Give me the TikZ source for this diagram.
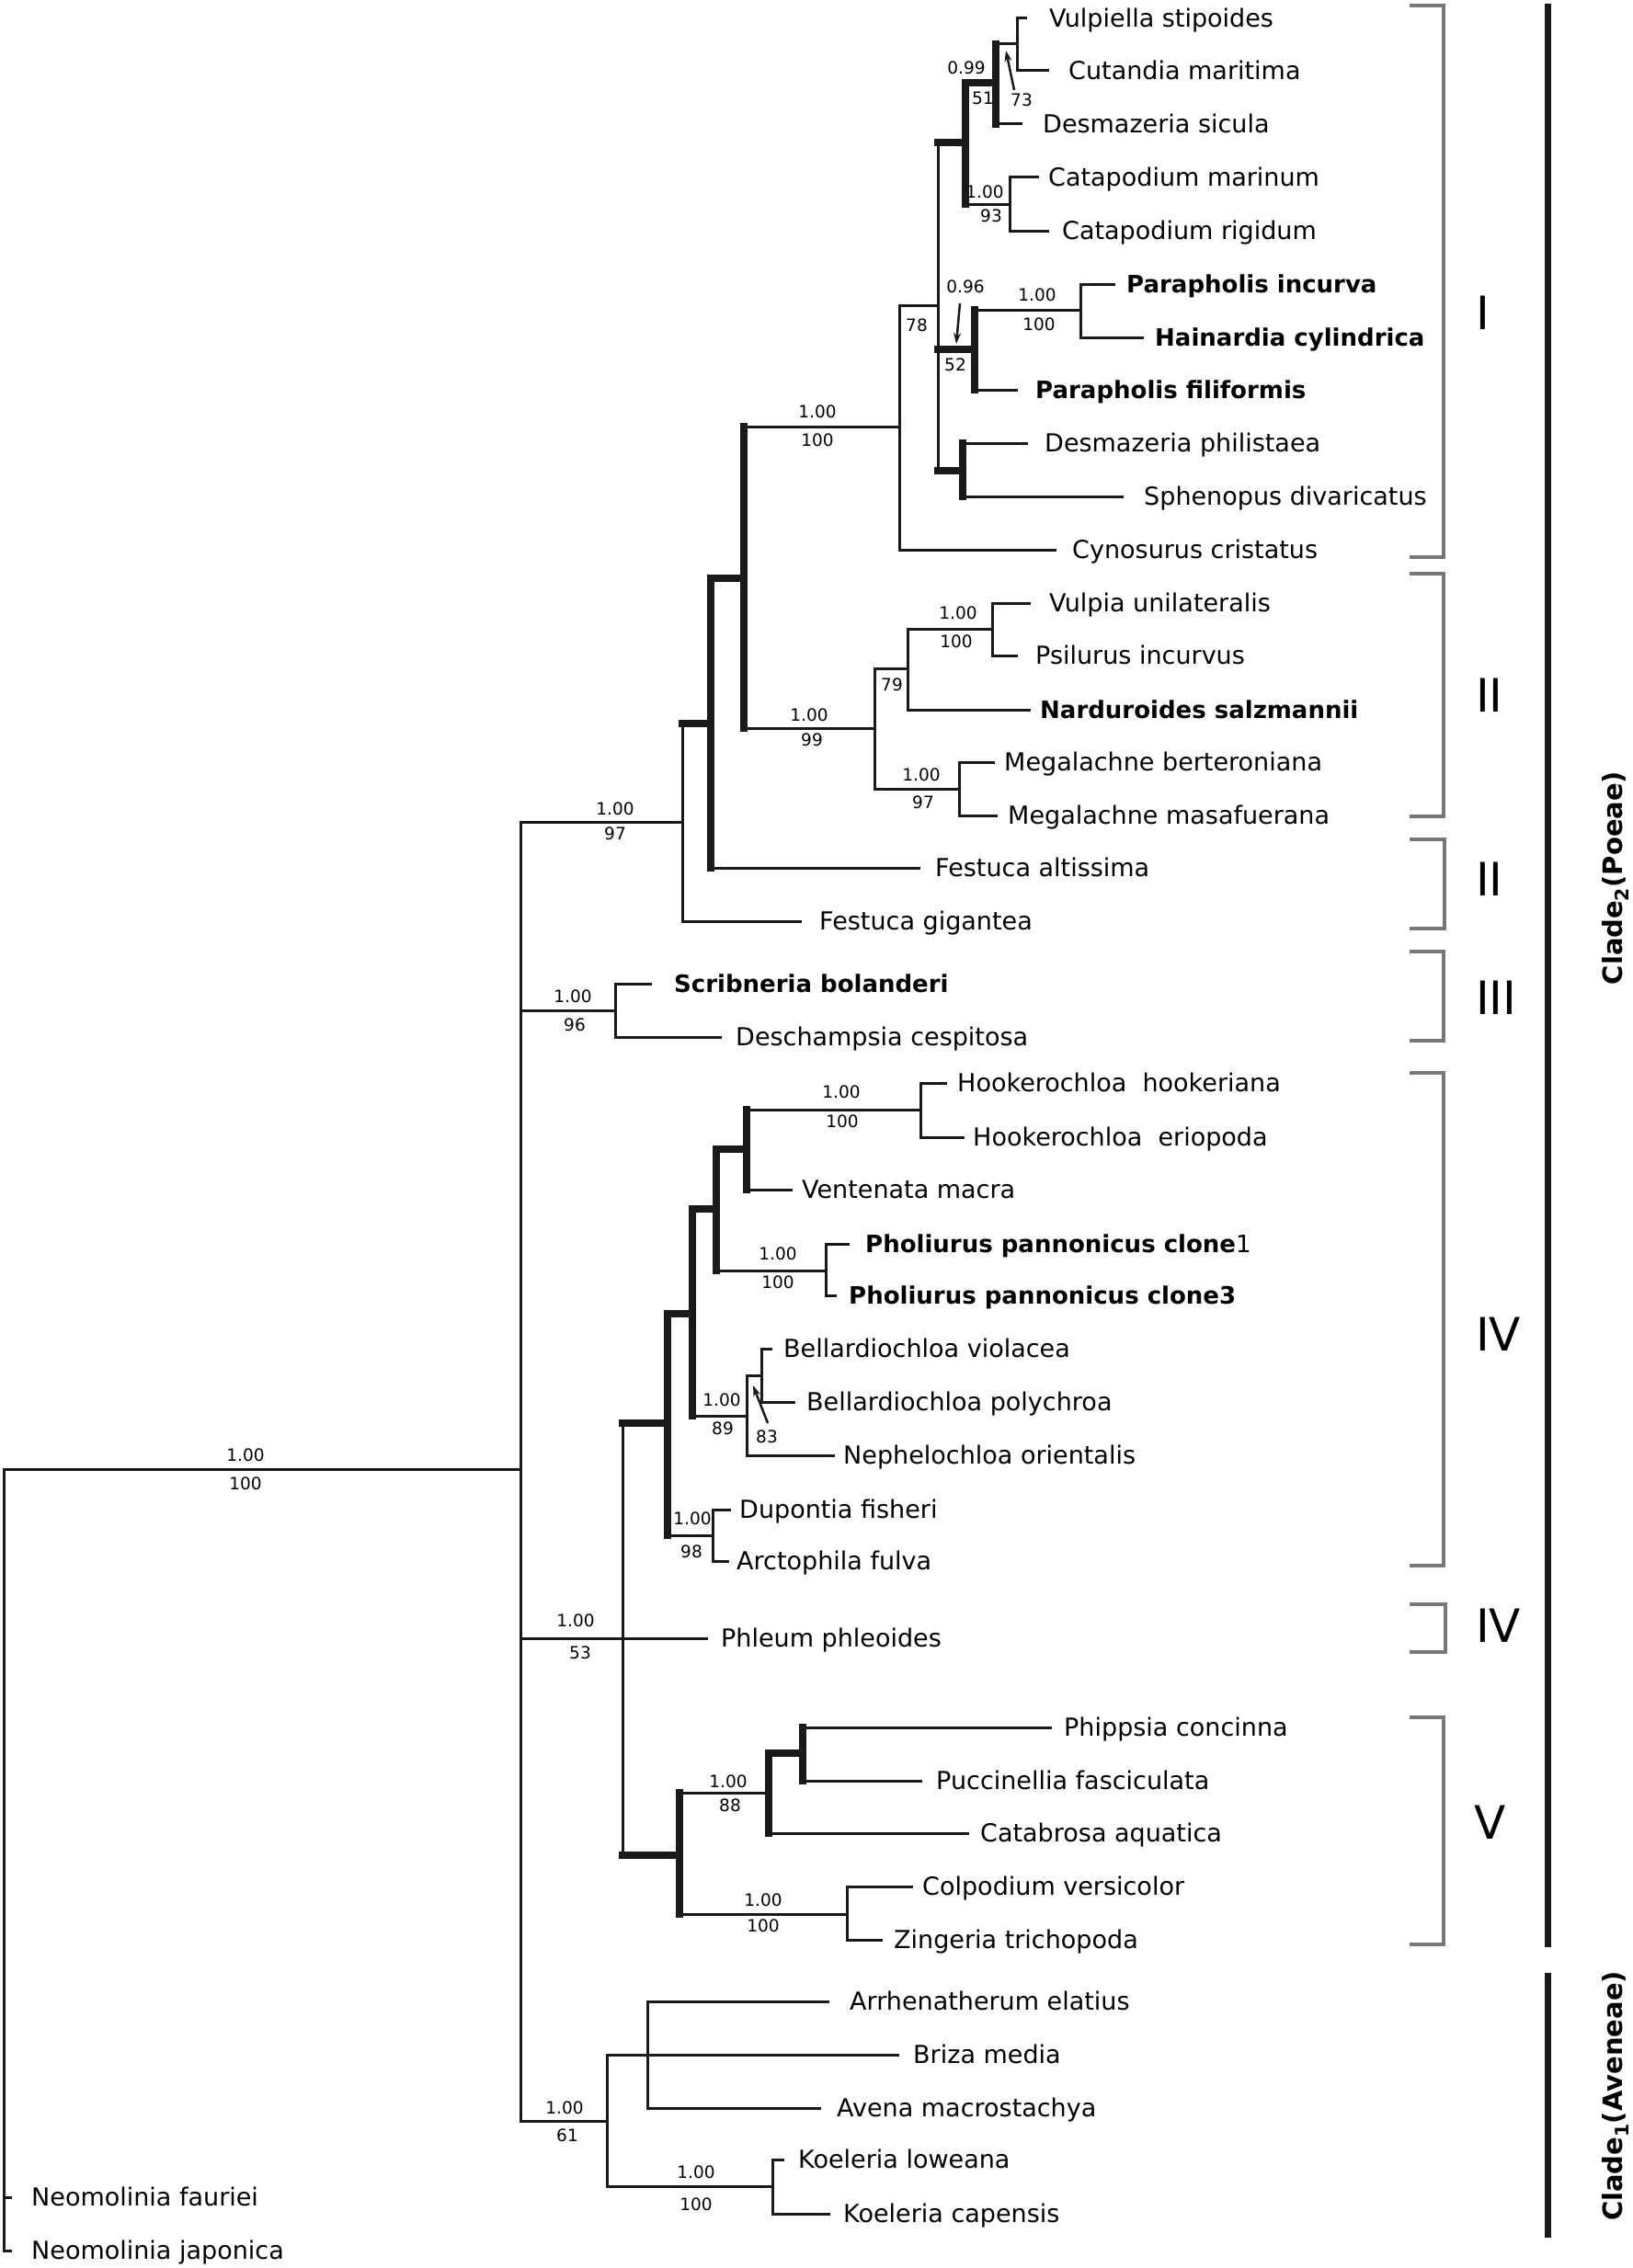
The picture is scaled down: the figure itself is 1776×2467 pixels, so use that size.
\documentclass[tikz,border=0pt]{standalone}
\usepackage{fontspec}
\setmainfont{DejaVu Sans}
\usetikzlibrary{arrows.meta}
\definecolor{lc}{HTML}{1A1A1A}
\definecolor{bc}{HTML}{777777}
\tikzset{
  ln/.style={line width=3pt, draw=lc, line cap=rect},
  tk/.style={line width=7.5pt, draw=lc, line cap=rect},
  tx/.style={anchor=west, inner sep=0pt, font=\fontsize{27}{27}\selectfont, text height=19.7pt, text depth=0pt},
  bx/.style={anchor=west, inner sep=0pt, font=\fontsize{26}{26}\selectfont\bfseries, text height=19pt, text depth=0pt},
  nm/.style={inner sep=0pt, font=\fontsize{18.5}{18.5}\selectfont, text height=13.5pt, text depth=0pt},
  arr/.style={line width=2.5pt, draw=lc, -{Stealth[length=12pt,width=8pt]}},
  brk/.style={line width=4pt, draw=bc, line join=miter},
  bar/.style={line width=7pt, draw=lc},
  rn/.style={anchor=west, inner sep=0pt, font=\fontsize{50}{50}\selectfont, text height=36.5pt, text depth=0pt},
  cl/.style={inner sep=0pt, rotate=90, font=\fontsize{29}{29}\selectfont\bfseries}
}
\begin{document}
\begin{tikzpicture}[x=1pt,y=-1pt]
\useasboundingbox (0,0) rectangle (1776,2467);
% ---------------- internal nodes ----------------
\coordinate (R) at (4,1598);
\coordinate (NA) at (566,1598);
\coordinate (NF) at (742,894);
\coordinate (NF2) at (773,787);
\coordinate (NF3) at (809,629);
\coordinate (NI) at (978,464);
\coordinate (NII) at (951,792);
\coordinate (N1020) at (1020,332);
\coordinate (Nup) at (1050,155);
\coordinate (Npar) at (1060,380);
\coordinate (Nphil) at (1047,512);
\coordinate (Nvul) at (1083,90);
\coordinate (Ncat) at (1098,222);
\coordinate (Nvc) at (1106,48);
\coordinate (Npi) at (1175,337);
\coordinate (N987) at (987,727);
\coordinate (Nmeg) at (1043,858);
\coordinate (Nvp) at (1079,684);
\coordinate (NS) at (669,1099);
\coordinate (NP) at (677,1782);
\coordinate (NIV) at (726,1548);
\coordinate (NV) at (739,2018);
\coordinate (N753) at (753,1429);
\coordinate (Ndup) at (775,1670);
\coordinate (N779) at (779,1315);
\coordinate (Nbel) at (812,1540);
\coordinate (N812) at (812,1250);
\coordinate (Npho) at (898,1382);
\coordinate (Nhook) at (1001,1207);
\coordinate (Nbv) at (828,1496);
\coordinate (N836) at (836,1950);
\coordinate (Ncol) at (921,2082);
\coordinate (Nphip) at (873,1907);
\coordinate (NAv) at (660,2307);
\coordinate (Nav) at (704,2235);
\coordinate (Nkoe) at (840,2378);
% ---------------- tips ----------------
\coordinate (tVs) at (1115,20);
\coordinate (tCm) at (1139,77);
\coordinate (tDs) at (1110,135);
\coordinate (tCmar) at (1128,193);
\coordinate (tCr) at (1139,251);
\coordinate (tPi) at (1211,309);
\coordinate (tHc) at (1242,367);
\coordinate (tPf) at (1105,424);
\coordinate (tDp) at (1116,482);
\coordinate (tSd) at (1220,540);
\coordinate (tCy) at (1147,598);
\coordinate (tVu) at (1119,656);
\coordinate (tPs) at (1105,713);
\coordinate (tNs) at (1119,772);
\coordinate (tMb) at (1080,829);
\coordinate (tMm) at (1083,887);
\coordinate (tFa) at (999,944);
\coordinate (tFg) at (870,1002);
\coordinate (tSb) at (707,1070);
\coordinate (tDc) at (783,1128);
\coordinate (tHh) at (1028,1178);
\coordinate (tHe) at (1047,1237);
\coordinate (tVm) at (860,1294);
\coordinate (tP1) at (922,1353);
\coordinate (tP3) at (908,1409);
\coordinate (tBv) at (838,1467);
\coordinate (tBp) at (863,1525);
\coordinate (tNo) at (906,1583);
\coordinate (tDf) at (793,1642);
\coordinate (tAf) at (791,1698);
\coordinate (tPh) at (768,1782);
\coordinate (tPc) at (1142,1879);
\coordinate (tPuf) at (1001,1937);
\coordinate (tCa) at (1052,1994);
\coordinate (tCv) at (991,2052);
\coordinate (tZt) at (958,2110);
\coordinate (tAe) at (900,2177);
\coordinate (tBm) at (976,2235);
\coordinate (tAm) at (891,2293);
\coordinate (tKl) at (851,2349);
\coordinate (tKc) at (901,2408);
\coordinate (tNf) at (11,2390);
\coordinate (tNj) at (11,2448);
% ---------------- verticals ----------------
\draw[ln] (R) -- (R |- tNj);
\draw[ln] (NA |- NF) -- (NA |- NAv);
\draw[ln] (NF |- NF2) -- (NF |- tFg);
\draw[tk] (NF2 |- NF3) -- (NF2 |- tFa);
\draw[tk] (NF3 |- NI) -- (NF3 |- NII);
\draw[ln] (NI |- N1020) -- (NI |- tCy);
\draw[ln] (N1020 |- Nup) -- (N1020 |- Nphil);
\draw[tk] (Nup |- Nvul) -- (Nup |- Ncat);
\draw[tk] (Nvul |- Nvc) -- (Nvul |- tDs);
\draw[ln] (Nvc |- tVs) -- (Nvc |- tCm);
\draw[ln] (Ncat |- tCmar) -- (Ncat |- tCr);
\draw[tk] (Npar |- Npi) -- (Npar |- tPf);
\draw[ln] (Npi |- tPi) -- (Npi |- tHc);
\draw[tk] (Nphil |- tDp) -- (Nphil |- tSd);
\draw[ln] (NII |- N987) -- (NII |- Nmeg);
\draw[ln] (N987 |- Nvp) -- (N987 |- tNs);
\draw[ln] (Nvp |- tVu) -- (Nvp |- tPs);
\draw[ln] (Nmeg |- tMb) -- (Nmeg |- tMm);
\draw[ln] (NS |- tSb) -- (NS |- tDc);
\draw[ln] (NP |- NIV) -- (NP |- NV);
\draw[tk] (NIV |- N753) -- (NIV |- Ndup);
\draw[tk] (N753 |- N779) -- (N753 |- Nbel);
\draw[tk] (N779 |- N812) -- (N779 |- Npho);
\draw[tk] (N812 |- Nhook) -- (N812 |- tVm);
\draw[ln] (Nhook |- tHh) -- (Nhook |- tHe);
\draw[ln] (Npho |- tP1) -- (Npho |- tP3);
\draw[ln] (Nbel |- Nbv) -- (Nbel |- tNo);
\draw[ln] (Nbv |- tBv) -- (Nbv |- tBp);
\draw[ln] (Ndup |- tDf) -- (Ndup |- tAf);
\draw[tk] (NV |- N836) -- (NV |- Ncol);
\draw[tk] (N836 |- Nphip) -- (N836 |- tCa);
\draw[tk] (Nphip |- tPc) -- (Nphip |- tPuf);
\draw[ln] (Ncol |- tCv) -- (Ncol |- tZt);
\draw[ln] (NAv |- Nav) -- (NAv |- Nkoe);
\draw[ln] (Nav |- tAe) -- (Nav |- tAm);
\draw[ln] (Nkoe |- tKl) -- (Nkoe |- tKc);
% ---------------- horizontals ----------------
\draw[ln] (R) -- (NA);
\draw[ln] (R |- tNf) -- (tNf);
\draw[ln] (R |- tNj) -- (tNj);
\draw[ln] (NA |- NF) -- (NF);
\draw[ln] (NA |- NS) -- (NS);
\draw[ln] (NA |- NP) -- (NP);
\draw[ln] (NA |- NAv) -- (NAv);
\draw[tk] (NF |- NF2) -- (NF2);
\draw[ln] (NF |- tFg) -- (tFg);
\draw[tk] (NF2 |- NF3) -- (NF3);
\draw[ln] (NF2 |- tFa) -- (tFa);
\draw[ln] (NF3 |- NI) -- (NI);
\draw[ln] (NF3 |- NII) -- (NII);
\draw[ln] (NI |- N1020) -- (N1020);
\draw[ln] (NI |- tCy) -- (tCy);
\draw[tk] (N1020 |- Nup) -- (Nup);
\draw[tk] (N1020 |- Npar) -- (Npar);
\draw[tk] (N1020 |- Nphil) -- (Nphil);
\draw[tk] (Nup |- Nvul) -- (Nvul);
\draw[ln] (Nup |- Ncat) -- (Ncat);
\draw[ln] (Nvul |- Nvc) -- (Nvc);
\draw[ln] (Nvul |- tDs) -- (tDs);
\draw[ln] (Nvc |- tVs) -- (tVs);
\draw[ln] (Nvc |- tCm) -- (tCm);
\draw[ln] (Ncat |- tCmar) -- (tCmar);
\draw[ln] (Ncat |- tCr) -- (tCr);
\draw[ln] (Npar |- Npi) -- (Npi);
\draw[ln] (Npar |- tPf) -- (tPf);
\draw[ln] (Npi |- tPi) -- (tPi);
\draw[ln] (Npi |- tHc) -- (tHc);
\draw[ln] (Nphil |- tDp) -- (tDp);
\draw[ln] (Nphil |- tSd) -- (tSd);
\draw[ln] (NII |- N987) -- (N987);
\draw[ln] (NII |- Nmeg) -- (Nmeg);
\draw[ln] (N987 |- Nvp) -- (Nvp);
\draw[ln] (N987 |- tNs) -- (tNs);
\draw[ln] (Nvp |- tVu) -- (tVu);
\draw[ln] (Nvp |- tPs) -- (tPs);
\draw[ln] (Nmeg |- tMb) -- (tMb);
\draw[ln] (Nmeg |- tMm) -- (tMm);
\draw[ln] (NS |- tSb) -- (tSb);
\draw[ln] (NS |- tDc) -- (tDc);
\draw[tk] (NP |- NIV) -- (NIV);
\draw[ln] (NP |- tPh) -- (tPh);
\draw[tk] (NP |- NV) -- (NV);
\draw[tk] (NIV |- N753) -- (N753);
\draw[ln] (NIV |- Ndup) -- (Ndup);
\draw[tk] (N753 |- N779) -- (N779);
\draw[ln] (N753 |- Nbel) -- (Nbel);
\draw[tk] (N779 |- N812) -- (N812);
\draw[ln] (N779 |- Npho) -- (Npho);
\draw[ln] (N812 |- Nhook) -- (Nhook);
\draw[ln] (N812 |- tVm) -- (tVm);
\draw[ln] (Nhook |- tHh) -- (tHh);
\draw[ln] (Nhook |- tHe) -- (tHe);
\draw[ln] (Npho |- tP1) -- (tP1);
\draw[ln] (Npho |- tP3) -- (tP3);
\draw[ln] (Nbel |- Nbv) -- (Nbv);
\draw[ln] (Nbel |- tNo) -- (tNo);
\draw[ln] (Nbv |- tBv) -- (tBv);
\draw[ln] (Nbv |- tBp) -- (tBp);
\draw[ln] (Ndup |- tDf) -- (tDf);
\draw[ln] (Ndup |- tAf) -- (tAf);
\draw[ln] (NV |- N836) -- (N836);
\draw[ln] (NV |- Ncol) -- (Ncol);
\draw[tk] (N836 |- Nphip) -- (Nphip);
\draw[ln] (N836 |- tCa) -- (tCa);
\draw[ln] (Nphip |- tPc) -- (tPc);
\draw[ln] (Nphip |- tPuf) -- (tPuf);
\draw[ln] (Ncol |- tCv) -- (tCv);
\draw[ln] (Ncol |- tZt) -- (tZt);
\draw[ln] (NAv |- Nav) -- (Nav);
\draw[ln] (NAv |- Nkoe) -- (Nkoe);
\draw[ln] (Nav |- tAe) -- (tAe);
\draw[ln] (Nav |- tBm) -- (tBm);
\draw[ln] (Nav |- tAm) -- (tAm);
\draw[ln] (Nkoe |- tKl) -- (tKl);
\draw[ln] (Nkoe |- tKc) -- (tKc);
% ---------------- taxon labels ----------------
\node[tx] (lVs) at (1141,20) {Vulpiella stipoides};
\node[tx] (lCm) at (1162,77) {Cutandia maritima};
\node[tx] (lDs) at (1134,135) {Desmazeria sicula};
\node[tx] (lCmar) at (1140,193) {Catapodium marinum};
\node[tx] (lCr) at (1155,251) {Catapodium rigidum};
\node[bx] (lPi) at (1225,309) {Parapholis incurva};
\node[bx] (lHc) at (1256,367) {Hainardia cylindrica};
\node[bx] (lPf) at (1126,424) {Parapholis filiformis};
\node[tx] (lDp) at (1136,482) {Desmazeria philistaea};
\node[tx] (lSd) at (1244,540) {Sphenopus divaricatus};
\node[tx] (lCy) at (1166,598) {Cynosurus cristatus};
\node[tx] (lVu) at (1141,656) {Vulpia unilateralis};
\node[tx] (lPs) at (1126,713) {Psilurus incurvus};
\node[bx] (lNs) at (1131,772) {Narduroides salzmannii};
\node[tx] (lMb) at (1092,829) {Megalachne berteroniana};
\node[tx] (lMm) at (1096,887) {Megalachne masafuerana};
\node[tx] (lFa) at (1017,944) {Festuca altissima};
\node[tx] (lFg) at (891,1002) {Festuca gigantea};
\node[bx] (lSb) at (733,1070) {Scribneria bolanderi};
\node[tx] (lDc) at (800,1128) {Deschampsia cespitosa};
\node[tx] (lHh) at (1041,1178) {Hookerochloa\ \ hookeriana};
\node[tx] (lHe) at (1058,1237) {Hookerochloa\ \ eriopoda};
\node[tx] (lVm) at (872,1294) {Ventenata macra};
\node[bx] (lP1) at (941,1353) {Pholiurus pannonicus clone{\mdseries 1}};
\node[bx] (lP3) at (923,1409) {Pholiurus pannonicus clone3};
\node[tx] (lBv) at (852,1467) {Bellardiochloa violacea};
\node[tx] (lBp) at (877,1525) {Bellardiochloa polychroa};
\node[tx] (lNo) at (917,1583) {Nephelochloa orientalis};
\node[tx] (lDf) at (804,1642) {Dupontia fisheri};
\node[tx] (lAf) at (801,1698) {Arctophila fulva};
\node[tx] (lPh) at (784,1782) {Phleum phleoides};
\node[tx] (lPc) at (1157,1879) {Phippsia concinna};
\node[tx] (lPuf) at (1018,1937) {Puccinellia fasciculata};
\node[tx] (lCa) at (1066,1994) {Catabrosa aquatica};
\node[tx] (lCv) at (1003,2052) {Colpodium versicolor};
\node[tx] (lZt) at (972,2110) {Zingeria trichopoda};
\node[tx] (lAe) at (924,2177) {Arrhenatherum elatius};
\node[tx] (lBm) at (993,2235) {Briza media};
\node[tx] (lAm) at (910,2293) {Avena macrostachya};
\node[tx] (lKl) at (868,2349) {Koeleria loweana};
\node[tx] (lKc) at (917,2408) {Koeleria capensis};
\node[tx] (lNf) at (34,2390) {Neomolinia fauriei};
\node[tx] (lNj) at (34,2448) {Neomolinia japonica};
% ---------------- support values ----------------
\node[nm] (sR1) at (267,1583) {1.00};
\node[nm] (sR2) at (267,1614) {100};
\node[nm] (sF1) at (669,880) {1.00};
\node[nm] (sF2) at (669,907) {97};
\node[nm] (sI1) at (889,448) {1.00};
\node[nm] (sI2) at (889,479) {100};
\node[nm] (s78) at (997,354) {78};
\node[nm] (sV1) at (1051,74) {0.99};
\node[nm] (sV2) at (1069,107) {51};
\node[nm] (s73) at (1111,109) {73};
\node[nm] (sC1) at (1071,209) {1.00};
\node[nm] (sC2) at (1078,235) {93};
\node[nm] (sP1) at (1050,312) {0.96};
\node[nm] (sP2) at (1039,397) {52};
\node[nm] (sPi1) at (1128,321) {1.00};
\node[nm] (sPi2) at (1130,353) {100};
\node[nm] (sII1) at (880,778) {1.00};
\node[nm] (sII2) at (883,805) {99};
\node[nm] (s79) at (970,745) {79};
\node[nm] (sVp1) at (1042,667) {1.00};
\node[nm] (sVp2) at (1040,698) {100};
\node[nm] (sM1) at (1002,843) {1.00};
\node[nm] (sM2) at (1004,873) {97};
\node[nm] (sS1) at (623,1084) {1.00};
\node[nm] (sS2) at (625,1115) {96};
\node[nm] (sH1) at (915,1188) {1.00};
\node[nm] (sH2) at (916,1220) {100};
\node[nm] (sPh1) at (846,1364) {1.00};
\node[nm] (sPh2) at (846,1395) {100};
\node[nm] (sB1) at (785,1523) {1.00};
\node[nm] (sB2) at (786,1554) {89};
\node[nm] (s83) at (834,1563) {83};
\node[nm] (sD1) at (753,1652) {1.00};
\node[nm] (sD2) at (752,1688) {98};
\node[nm] (sN1) at (626,1763) {1.00};
\node[nm] (sN2) at (631,1798) {53};
\node[nm] (sC81) at (792,1938) {1.00};
\node[nm] (sC82) at (794,1964) {88};
\node[nm] (sCo1) at (830,2067) {1.00};
\node[nm] (sCo2) at (830,2095) {100};
\node[nm] (sA1) at (614,2293) {1.00};
\node[nm] (sA2) at (617,2323) {61};
\node[nm] (sK1) at (757,2363) {1.00};
\node[nm] (sK2) at (757,2398) {100};
% ---------------- pointer arrows ----------------
\coordinate (a73s) at (1103,98);
\coordinate (a73e) at (1094,55);
\coordinate (a96s) at (1044,330);
\coordinate (a96e) at (1040,374);
\coordinate (a83s) at (835,1548);
\coordinate (a83e) at (819,1507);
\draw[arr] (a73s) -- (a73e);
\draw[arr] (a96s) -- (a96e);
\draw[arr] (a83s) -- (a83e);
% ---------------- group brackets ----------------
\draw[brk] (1533,6) -- (1570,6) -- (1570,606) -- (1533,606);
\draw[brk] (1533,624) -- (1570,624) -- (1570,888) -- (1533,888);
\draw[brk] (1533,913) -- (1571,913) -- (1571,1010) -- (1533,1010);
\draw[brk] (1533,1035) -- (1570,1035) -- (1570,1132) -- (1533,1132);
\draw[brk] (1533,1167) -- (1570,1167) -- (1570,1703) -- (1533,1703);
\draw[brk] (1533,1745) -- (1572,1745) -- (1572,1797) -- (1533,1797);
\draw[brk] (1533,1868) -- (1570,1868) -- (1570,2115) -- (1533,2115);
\node[rn] (gI) at (1605,340) {I};
\node[rn] (gII) at (1605,756) {II};
\node[rn] (gIIb) at (1605,956) {II};
\node[rn] (gIII) at (1605,1085) {III};
\node[rn] (gIV) at (1605,1451) {IV};
\node[rn] (gIVb) at (1605,1768) {IV};
\node[rn] (gV) at (1603,1982) {V};
% ---------------- clade bars ----------------
\coordinate (b1t) at (1683,4);
\coordinate (b1b) at (1683,2118);
\coordinate (b2t) at (1683,2146);
\coordinate (b2b) at (1683,2434);
\draw[bar] (b1t) -- (b1b);
\draw[bar] (b2t) -- (b2b);
\node[cl] (c2) at (1757,955) {Clade\textsubscript{2}(Poeae)};
\node[cl] (c1) at (1757,2280) {Clade\textsubscript{1}(Aveneae)};
\end{tikzpicture}
\end{document}
